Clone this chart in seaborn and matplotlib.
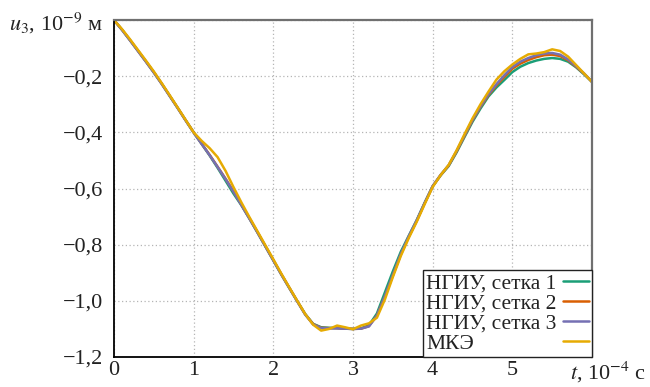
import numpy as np
import pandas as pd
import matplotlib
matplotlib.use('Agg')
import matplotlib.pyplot as plt
from matplotlib.transforms import Bbox
import seaborn as sns

# --- Données ---
t = np.round(np.linspace(0, 6, 61), 1)

setka1 = [0.000, -0.034, -0.071, -0.109, -0.147, -0.186, -0.227, -0.270, -0.313, -0.357,
          -0.400, -0.441, -0.482, -0.526, -0.572, -0.618, -0.660, -0.707, -0.756, -0.806,
          -0.856, -0.906, -0.954, -1.001, -1.047, -1.082, -1.094, -1.096, -1.097, -1.099,
          -1.100, -1.098, -1.087, -1.045, -0.970, -0.895, -0.825, -0.768, -0.712, -0.650,
          -0.592, -0.553, -0.520, -0.471, -0.416, -0.362, -0.315, -0.272, -0.240, -0.213,
          -0.185, -0.166, -0.153, -0.144, -0.138, -0.135, -0.138, -0.148, -0.168, -0.193,
          -0.220]

setka2 = [0.000, -0.034, -0.071, -0.109, -0.147, -0.186, -0.227, -0.270, -0.313, -0.357,
          -0.400, -0.440, -0.480, -0.522, -0.565, -0.610, -0.658, -0.706, -0.755, -0.805,
          -0.855, -0.905, -0.953, -1.001, -1.048, -1.083, -1.096, -1.097, -1.097, -1.099,
          -1.100, -1.099, -1.090, -1.052, -0.985, -0.910, -0.835, -0.772, -0.715, -0.652,
          -0.592, -0.552, -0.518, -0.468, -0.412, -0.357, -0.309, -0.267, -0.232, -0.202,
          -0.173, -0.155, -0.142, -0.132, -0.125, -0.123, -0.128, -0.143, -0.166, -0.191,
          -0.220]

setka3 = [0.000, -0.035, -0.072, -0.110, -0.148, -0.187, -0.228, -0.271, -0.314, -0.358,
          -0.401, -0.441, -0.481, -0.523, -0.566, -0.611, -0.659, -0.707, -0.756, -0.806,
          -0.856, -0.906, -0.954, -1.002, -1.049, -1.084, -1.097, -1.098, -1.098, -1.099,
          -1.100, -1.099, -1.091, -1.053, -0.984, -0.908, -0.833, -0.770, -0.713, -0.651,
          -0.591, -0.551, -0.517, -0.466, -0.410, -0.355, -0.307, -0.264, -0.228, -0.196,
          -0.167, -0.148, -0.135, -0.125, -0.119, -0.117, -0.123, -0.140, -0.164, -0.190,
          -0.220]

mke = [0.000, -0.032, -0.068, -0.106, -0.144, -0.183, -0.225, -0.268, -0.312, -0.356,
       -0.400, -0.430, -0.456, -0.488, -0.537, -0.595, -0.650, -0.702, -0.752, -0.802,
       -0.852, -0.903, -0.952, -1.000, -1.047, -1.085, -1.106, -1.100, -1.088, -1.094,
       -1.101, -1.088, -1.080, -1.060, -0.995, -0.915, -0.840, -0.776, -0.718, -0.655,
       -0.594, -0.552, -0.516, -0.464, -0.406, -0.350, -0.300, -0.255, -0.212, -0.182,
       -0.158, -0.138, -0.122, -0.119, -0.114, -0.104, -0.110, -0.130, -0.160, -0.190,
       -0.220]

series_names = ['НГИУ, сетка 1', 'НГИУ, сетка 2', 'НГИУ, сетка 3', 'МКЭ']
series_values = [setka1, setka2, setka3, mke]

xticks = [0, 1, 2, 3, 4, 5, 6]
xtick_labels = ['0', '1', '2', '3', '4', '5', '']
yticks = [0, -0.2, -0.4, -0.6, -0.8, -1.0, -1.2]
ytick_labels = ['$u_3$, 10$^{-9}$ м', '\u22120,2', '\u22120,4', '\u22120,6',
                '\u22120,8', '\u22121,0', '\u22121,2']

# --- Style ---
sns.set_theme(style='white')
plt.rcParams['font.family'] = ['Liberation Serif', 'DejaVu Serif']
plt.rcParams['mathtext.fontset'] = 'stix'

dark2 = sns.color_palette('Dark2', 8)
palette = {series_names[0]: dark2[0], series_names[1]: dark2[1],
           series_names[2]: dark2[2], series_names[3]: dark2[5]}

df = pd.concat([pd.DataFrame({'t': t, 'u': v, 'serie': n})
                for n, v in zip(series_names, series_values)], ignore_index=True)

fig = plt.figure(figsize=(6.5, 3.87), dpi=100)
ax = fig.add_axes([0.1754, 0.0775, 0.7354, 0.8705])

sns.lineplot(data=df, x='t', y='u', hue='serie', palette=palette, sort=False,
             linewidth=1.8, ax=ax, legend=True)

ax.set_xlim(0, 6)
ax.set_ylim(-1.2, 0)
ax.set_xticks(xticks)
ax.set_xticklabels(xtick_labels)
ax.set_yticks(yticks)
ax.set_yticklabels(ytick_labels)
ax.tick_params(length=0, labelsize=16, colors='#222222')
ax.tick_params(axis='y', pad=8)
ax.tick_params(axis='x', pad=3)
ax.set_xlabel('')
ax.set_ylabel('')

ax.grid(True, linestyle=(0, (1, 2)), color='#b5b5b5', linewidth=0.9)
for s in ['left', 'bottom']:
    ax.spines[s].set_color('black')
    ax.spines[s].set_linewidth(1.3)
for s in ['top', 'right']:
    ax.spines[s].set_color('#707070')
    ax.spines[s].set_linewidth(1.6)

ax.annotate('$t$, 10$^{-4}$ с', xy=(1, 0), xycoords='axes fraction',
            xytext=(54, -23), textcoords='offset pixels', ha='right', va='baseline',
            fontsize=16, color='#222222', annotation_clip=False)

handles, labels = ax.get_legend_handles_labels()
leg = ax.legend(handles, labels, loc='lower right', borderaxespad=0, markerfirst=False,
                fancybox=False, framealpha=1, edgecolor='#222222', fontsize=15.5,
                handlelength=1.2, handletextpad=0.3, labelspacing=0.0,
                borderpad=0.15)
leg.get_frame().set_linewidth(1.0)
for txt in leg.get_texts():
    txt.set_color('#222222')

# textes de la légende alignés à gauche, traits à droite
renderer = fig.canvas.get_renderer()
areas = [item.get_children()[0]
         for col in leg._legend_handle_box.get_children()
         for item in col.get_children()]
wmax = max(a.get_bbox(renderer).width for a in areas)
for a in areas:
    def new_bbox(r, orig=a.get_bbox):
        b = orig(r)
        return Bbox.from_bounds(b.x0, b.y0, wmax, b.height)
    a.get_bbox = new_bbox

fig.savefig('out.png', dpi=100)
